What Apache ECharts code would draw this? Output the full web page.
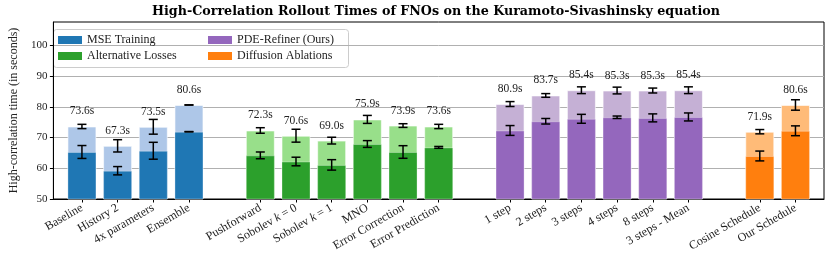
<!DOCTYPE html>
<html>
<head>
<meta charset="utf-8">
<script src="https://cdn.jsdelivr.net/npm/echarts@6/dist/echarts.min.js"></script>
<style>html,body{margin:0;padding:0;background:#fff;}#c{width:831px;height:265px;}</style>
</head>
<body>
<div id="c"></div>
<script>
// ---- data ----
const categories = ['Baseline','History 2','4x parameters','Ensemble',
  'Pushforward','Sobolev k = 0','Sobolev k = 1','MNO','Error Correction','Error Prediction',
  '1 step','2 steps','3 steps','4 steps','8 steps','3 steps - Mean',
  'Cosine Schedule','Our Schedule'];
const positions = [0,1,2,3, 5,6,7,8,9,10, 12,13,14,15,16,17, 19,20];
const groupOf = [0,0,0,0, 1,1,1,1,1,1, 2,2,2,2,2,2, 3,3];
const groupNames = ['MSE Training','Alternative Losses','PDE-Refiner (Ours)','Diffusion Ablations'];
const totalTimes = [73.6,67.3,73.5,80.6, 72.3,70.6,69.0,75.9,73.9,73.6, 80.9,83.7,85.4,85.3,85.3,85.4, 71.9,80.6];
const totalErr   = [0.7,2.0,2.4,0.05, 0.9,2.1,1.1,1.3,0.6,0.7, 0.8,0.6,1.1,1.1,0.8,1.1, 0.7,1.7];
const innerTimes = [65.3,59.2,65.7,71.9, 64.2,62.2,61.1,67.9,65.3,66.8, 72.3,75.3,76.1,76.6,76.4,76.7, 64.0,72.2];
const innerErr   = [2.1,1.35,2.75,0.05, 1.1,1.4,1.7,1.1,2.05,0.3, 1.6,0.9,1.45,0.4,1.3,1.3, 1.6,1.6];
const yTicks = [50,60,70,80,90,100];

// ---- style ----
const darkColors  = ['#1f77b4','#2ca02c','#9467bd','#ff7f0e'];
const lightColors = ['#aec7e8','#98df8a','#c5b0d5','#ffbb78'];
const SERIF = '"Liberation Serif", "DejaVu Serif", serif';

const labelByPos = {};
positions.forEach((p,i)=>{ labelByPos[p] = categories[i]; });

function barData(vals, colors){
  return vals.map((v,i)=>({value:[positions[i], v], itemStyle:{color: colors[groupOf[i]]}}));
}
function errData(vals, errs){
  return vals.map((v,i)=>[positions[i], v, errs[i]]);
}
function renderErr(params, api){
  const x = api.value(0), y = api.value(1), e = api.value(2);
  const t = api.coord([x, y+e]), b = api.coord([x, y-e]);
  const w = 4.5;
  const st = {stroke:'#000', lineWidth:1.5};
  return {type:'group', children:[
    {type:'line', shape:{x1:t[0], y1:t[1], x2:b[0], y2:b[1]}, style:st},
    {type:'line', shape:{x1:t[0]-w, y1:t[1], x2:t[0]+w, y2:t[1]}, style:st},
    {type:'line', shape:{x1:b[0]-w, y1:b[1], x2:b[0]+w, y2:b[1]}, style:st}
  ]};
}

const chart = echarts.init(document.getElementById('c'), null, {renderer:'canvas'});
const series = [
  {type:'bar', name:'total', data: barData(totalTimes, lightColors), barWidth:29, barGap:'-100%', clip:true,
   itemStyle:{borderColor:'rgba(255,255,255,0.6)', borderWidth:1},
   label:{show:true, position:'top', distance:9, fontFamily:SERIF, fontSize:11.5, color:'#222',
     formatter:p=>p.value[1].toFixed(1)+'s'}, z:2, silent:true},
  {type:'bar', name:'inner', data: barData(innerTimes, darkColors), barWidth:29, barGap:'-100%', clip:true,
   itemStyle:{borderColor:'rgba(255,255,255,0.3)', borderWidth:1}, z:3, silent:true},
  {type:'custom', data: errData(totalTimes, totalErr), renderItem: renderErr, encode:{x:0,y:1}, z:5, silent:true},
  {type:'custom', data: errData(innerTimes, innerErr), renderItem: renderErr, encode:{x:0,y:1}, z:5, silent:true}
];
groupNames.forEach((n,g)=>{
  series.push({type:'scatter', name:n, data:[], itemStyle:{color:darkColors[g], opacity:1}});
});

const legendCommon = {orient:'vertical', top:34, itemWidth:24, itemHeight:8, itemGap:4, padding:0, zlevel:1, z:10,
  icon:'rect', itemStyle:{opacity:1}, textStyle:{fontFamily:SERIF, fontSize:12, color:'#222'}, selectedMode:false};

chart.setOption({
  animation:false,
  title:{text:'High-Correlation Rollout Times of FNOs on the Kuramoto-Sivashinsky equation',
    left:152, top:5, padding:0, textStyle:{fontFamily:'"DejaVu Serif", serif', fontWeight:'bold', fontSize:12.7, color:'#000'}},
  grid:{left:48, right:7, top:22, bottom:66, show:true, borderColor:'#000', borderWidth:1, backgroundColor:'transparent'},
  legend:[
    Object.assign({data:[groupNames[0], groupNames[1]], left:58}, legendCommon),
    Object.assign({data:[groupNames[2], groupNames[3]], left:208}, legendCommon)
  ],
  graphic:{elements:[{type:'rect', left:53, top:29, shape:{width:295, height:38, r:3},
    style:{fill:'rgba(255,255,255,0.8)', stroke:'#cccccc', lineWidth:1}}]},
  xAxis:{type:'value', min:-0.8, max:20.8,
    axisLine:{show:true, onZero:false, lineStyle:{color:'#000'}},
    splitLine:{show:false},
    axisTick:{show:true, customValues:positions, length:3.5, lineStyle:{color:'#000'}},
    axisLabel:{show:true, customValues:positions, rotate:30, margin:8, fontFamily:SERIF, fontSize:12, color:'#222',
      formatter:v=>{
        const s = labelByPos[Math.round(v)] || '';
        return s.replace(/ k = /, ' {i|k} = ');
      },
      rich:{i:{fontStyle:'italic', fontFamily:SERIF, fontSize:12, color:'#222'}}}
  },
  yAxis:{type:'value', min:50, max:107.6, interval:10,
    name:'High-correlation time (in seconds)', nameLocation:'middle', nameGap:33,
    nameTextStyle:{fontFamily:SERIF, fontSize:12, color:'#222'},
    axisLine:{show:true, onZero:false, lineStyle:{color:'#000'}},
    axisTick:{show:true, length:3.5, customValues:yTicks, lineStyle:{color:'#000'}},
    axisLabel:{fontFamily:SERIF, fontSize:11, color:'#222', margin:6, customValues:yTicks},
    splitLine:{show:true, lineStyle:{color:'#b0b0b0', width:1}}
  },
  series: series
});
</script>
</body>
</html>
